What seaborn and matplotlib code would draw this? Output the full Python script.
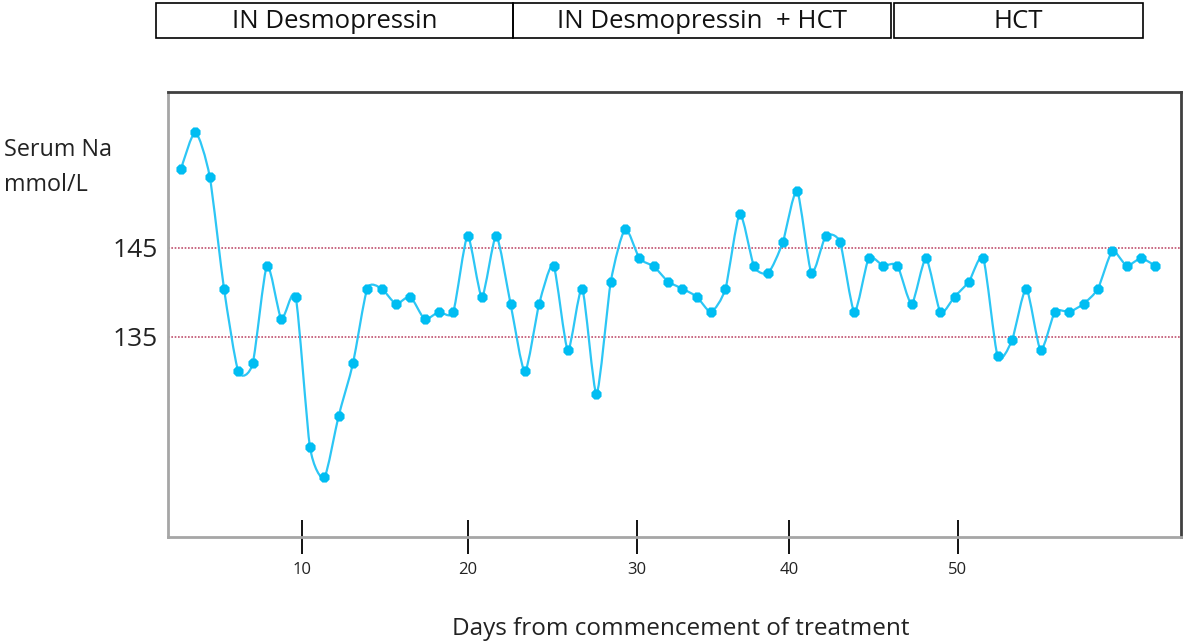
import numpy as np
import pandas as pd
import matplotlib
matplotlib.use("Agg")
import matplotlib.pyplot as plt
import seaborn as sns
from matplotlib.path import Path
from matplotlib.patches import PathPatch, Rectangle

# ---------------- data ----------------
sample = list(range(1, 70))
serum_na = [153.9, 158.0, 153.0, 140.4, 131.1, 132.0, 143.0, 137.0, 139.5, 122.6,
            119.2, 126.1, 132.0, 140.4, 140.4, 138.7, 139.5, 137.0, 137.8, 137.8,
            146.3, 139.5, 146.3, 138.7, 131.1, 138.7, 143.0, 133.5, 140.4, 128.6,
            141.2, 147.1, 143.8, 142.9, 141.2, 140.4, 139.5, 137.8, 140.4, 148.8,
            142.9, 142.2, 145.6, 151.4, 142.2, 146.3, 145.6, 137.8, 143.8, 143.0,
            143.0, 138.7, 143.8, 137.8, 139.5, 141.2, 143.8, 132.8, 134.6, 140.4,
            133.5, 137.8, 137.8, 138.7, 140.4, 144.6, 143.0, 143.8, 143.0]
day_tick_pos = [9.44, 21.03, 32.82, 43.43, 55.22]
day_tick_labels = ["10", "20", "30", "40", "50"]
na_ticks = [135, 145]
na_tick_labels = ["135", "145"]
ref_lines = [145, 135]
phases = ["IN Desmopressin", "IN Desmopressin  + HCT", "HCT"]

# ---------------- style ----------------
sns.set_theme(style="white")
plt.rcParams["font.family"] = ["Open Sans", "DejaVu Sans"]

W, H = 1200, 643
fig = plt.figure(figsize=(W / 100, H / 100), dpi=100)
ax = fig.add_axes([168 / W, 1 - 537 / H, (1181 - 168) / W, (537 - 92) / H])
ax.set_facecolor("white")

df = pd.DataFrame({"sample": sample, "na": serum_na})

line_color = "#2CC6F5"
marker_color = "#00BDF2"

# smoothed connecting line (mild Excel-style smoothing via cubic Bezier)
pts = df[["sample", "na"]].to_numpy(dtype=float)
n = len(pts)
k = 1.0 / 9.0
verts = [pts[0]]
codes = [Path.MOVETO]
for i in range(n - 1):
    p0 = pts[i - 1] if i > 0 else pts[i]
    p1 = pts[i]
    p2 = pts[i + 1]
    p3 = pts[i + 2] if i + 2 < n else pts[i + 1]
    verts += [p1 + (p2 - p0) * k, p2 - (p3 - p1) * k, p2]
    codes += [Path.CURVE4] * 3
ax.add_patch(PathPatch(Path(verts, codes), fill=False, edgecolor=line_color,
                       lw=1.6, transform=ax.transData, zorder=2))

sns.scatterplot(data=df, x="sample", y="na", ax=ax, s=62, color=marker_color,
                marker="8", edgecolor=marker_color, linewidth=0, zorder=3, legend=False)

for v in ref_lines:
    ax.axhline(v, color="#C0506E", lw=1.2, ls=(0, (1, 1)), zorder=1)

ax.set_xlim(0.09, 70.8)
ax.set_ylim(112.5, 162.5)

ax.set_xticks(day_tick_pos)
ax.set_xticklabels(day_tick_labels)
ax.set_yticks(na_ticks)
ax.set_yticklabels(na_tick_labels)
ax.tick_params(axis="x", bottom=True, direction="inout", length=24, width=1.3,
               color="black", labelsize=12, pad=6, labelcolor="#222222")
ax.tick_params(axis="y", left=False, length=0, labelsize=19, pad=7, labelcolor="#222222")
ax.set_xlabel("")
ax.set_ylabel("")

for side in ["left", "bottom"]:
    ax.spines[side].set_color("#A6A6A6")
    ax.spines[side].set_linewidth(2)
for side in ["top", "right"]:
    ax.spines[side].set_color("#404040")
    ax.spines[side].set_linewidth(2)

# axis titles
fig.text(681 / W, 1 - 629 / H, "Days from commencement of treatment",
         ha="center", va="center", fontsize=17.5, color="#222222")
fig.text(4 / W, 1 - 150 / H, "Serum Na", ha="left", va="center", fontsize=16.8, color="#222222")
fig.text(4 / W, 1 - 185 / H, "mmol/L", ha="left", va="center", fontsize=16.8, color="#222222")

# phase header boxes
box_edges = [(156, 513), (513, 891), (894, 1143)]
for (x0, x1), label in zip(box_edges, phases):
    fig.patches.append(Rectangle((x0 / W, 1 - 38 / H), (x1 - x0) / W, 35 / H,
                                 transform=fig.transFigure, fill=False,
                                 edgecolor="black", lw=1.2))
    fig.text((x0 + x1) / 2 / W, 1 - 22 / H, label, ha="center", va="center",
             fontsize=18.5, color="#111111")

fig.savefig("out.png", dpi=100)
